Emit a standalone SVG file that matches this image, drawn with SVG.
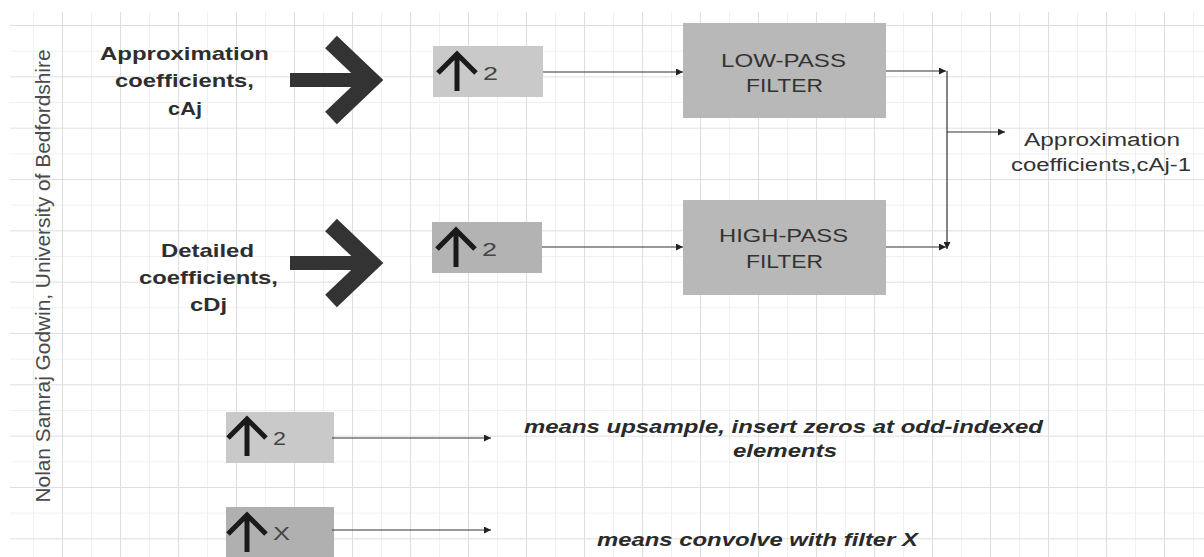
<svg xmlns="http://www.w3.org/2000/svg" xmlns:xlink="http://www.w3.org/1999/xlink" width="1204" height="557" viewBox="0 0 1204 557">
<style>
  .lbl-b { font-family: "Liberation Sans", Arial, sans-serif; font-weight: bold; font-size: 19px; fill: #2e2e2e; text-anchor: middle; }
  .lbl { font-family: "Liberation Sans", Arial, sans-serif; font-size: 19px; fill: #333; text-anchor: middle; }
  .lbl-bi { font-family: "Liberation Sans", Arial, sans-serif; font-weight: bold; font-style: italic; font-size: 19px; fill: #2a2a2a; text-anchor: middle; }
  .small { font-family: "Liberation Sans", Arial, sans-serif; font-size: 19px; fill: #444; }
  .conn { fill: none; stroke: #333; stroke-width: 1.2; }
  .glyph { fill: none; stroke: #1a1a1a; stroke-width: 5; stroke-linejoin: miter; }
  .credit { font-family: "Liberation Sans", Arial, sans-serif; font-size: 21px; fill: #4a4a4a; text-anchor: middle; }
</style>
<defs>
  <pattern id="grid" patternUnits="userSpaceOnUse" x="4" y="25" width="58" height="51.33">
    <rect width="58" height="51.33" fill="#ffffff"/>
    <line x1="29.5" y1="0" x2="29.5" y2="51.33" stroke="#f0f0f0" stroke-width="1"/>
    <line x1="0" y1="26.2" x2="58" y2="26.2" stroke="#f0f0f0" stroke-width="1"/>
    <line x1="0.5" y1="0" x2="0.5" y2="51.33" stroke="#dedede" stroke-width="1"/>
    <line x1="0" y1="0.5" x2="58" y2="0.5" stroke="#dedede" stroke-width="1"/>
  </pattern>
  <marker id="ah" viewBox="0 0 10 10" refX="10" refY="5" markerWidth="8" markerHeight="7" markerUnits="userSpaceOnUse" orient="auto">
    <path d="M0,0 L10,5 L0,10 Z" fill="#222"/>
  </marker>
  <g id="bigArrow">
    <rect x="-93" y="-7" width="80" height="14" fill="#333"/>
    <path d="M-52,-38 L-12,0 L-52,38" fill="none" stroke="#333" stroke-width="17" stroke-linejoin="miter" stroke-miterlimit="10"/>
  </g>
  <path id="upGlyph" d="M5,27 L24,8 L43,27 M24,8 L24,45" class="glyph"/>
</defs>

<rect x="0" y="0" width="1204" height="557" fill="#ffffff"/>
<rect x="10" y="12" width="1194" height="545" fill="url(#grid)"/>

<g id="credit">
  <text class="credit" transform="translate(50,276) rotate(-90)" textLength="453" lengthAdjust="spacingAndGlyphs">Nolan Samraj Godwin, University of Bedfordshire</text>
</g>

<g id="input-approx">
  <text class="lbl-b" x="184.5" y="60" textLength="169" lengthAdjust="spacingAndGlyphs">Approximation</text>
  <text class="lbl-b" x="184.5" y="87" textLength="139" lengthAdjust="spacingAndGlyphs">coefficients,</text>
  <text class="lbl-b" x="185" y="115" textLength="34" lengthAdjust="spacingAndGlyphs">cAj</text>
</g>
<g id="input-detail">
  <text class="lbl-b" x="207.5" y="257" textLength="93" lengthAdjust="spacingAndGlyphs">Detailed</text>
  <text class="lbl-b" x="208.5" y="284" textLength="139" lengthAdjust="spacingAndGlyphs">coefficients,</text>
  <text class="lbl-b" x="208.5" y="311" textLength="37" lengthAdjust="spacingAndGlyphs">cDj</text>
</g>

<g id="big-arrow-1"><use xlink:href="#bigArrow" href="#bigArrow" transform="translate(383,80)"/></g>
<g id="big-arrow-2"><use xlink:href="#bigArrow" href="#bigArrow" transform="translate(383,263)"/></g>

<g id="upsample-a">
  <rect x="433" y="46" width="110" height="51" fill="#c9c9c9"/>
  <use xlink:href="#upGlyph" href="#upGlyph" transform="translate(433,46)"/>
  <text class="small" x="483" y="80" textLength="15" lengthAdjust="spacingAndGlyphs">2</text>
</g>
<g id="upsample-d">
  <rect x="432" y="222" width="110" height="51" fill="#b3b3b3"/>
  <use xlink:href="#upGlyph" href="#upGlyph" transform="translate(432,222)"/>
  <text class="small" x="482" y="256" textLength="15" lengthAdjust="spacingAndGlyphs">2</text>
</g>

<g id="low-pass">
  <rect x="683" y="23" width="203" height="95" fill="#b8b8b8"/>
  <text class="lbl" x="783.5" y="67" textLength="125" lengthAdjust="spacingAndGlyphs">LOW-PASS</text>
  <text class="lbl" x="784.5" y="92" textLength="77" lengthAdjust="spacingAndGlyphs">FILTER</text>
</g>
<g id="high-pass">
  <rect x="683" y="200" width="203" height="95" fill="#b8b8b8"/>
  <text class="lbl" x="783.5" y="242" textLength="129" lengthAdjust="spacingAndGlyphs">HIGH-PASS</text>
  <text class="lbl" x="784.5" y="268" textLength="77" lengthAdjust="spacingAndGlyphs">FILTER</text>
</g>

<g id="output">
  <text class="lbl" style="font-size:18px" x="1102" y="146" textLength="156" lengthAdjust="spacingAndGlyphs">Approximation</text>
  <text class="lbl" style="font-size:18px" x="1101" y="171" textLength="180" lengthAdjust="spacingAndGlyphs">coefficients,cAj-1</text>
</g>

<g id="legend-up">
  <rect x="226" y="412" width="108" height="51" fill="#c9c9c9"/>
  <use xlink:href="#upGlyph" href="#upGlyph" transform="translate(223,411)"/>
  <text class="small" x="273" y="445" textLength="13" lengthAdjust="spacingAndGlyphs">2</text>
</g>
<g id="legend-up-text">
  <text class="lbl-bi" x="783.5" y="433" textLength="519" lengthAdjust="spacingAndGlyphs">means upsample, insert zeros at odd-indexed</text>
  <text class="lbl-bi" x="785" y="457" textLength="104" lengthAdjust="spacingAndGlyphs">elements</text>
</g>
<g id="legend-filter">
  <rect x="226" y="507" width="108" height="50" fill="#b0b0b0"/>
  <use xlink:href="#upGlyph" href="#upGlyph" transform="translate(223,507)"/>
  <text class="small" x="273" y="540" textLength="17" lengthAdjust="spacingAndGlyphs">X</text>
</g>
<g id="legend-filter-text">
  <text class="lbl-bi" x="757.5" y="546" textLength="321" lengthAdjust="spacingAndGlyphs">means convolve with filter X</text>
</g>

<g id="connectors">
  <path class="conn" d="M543,72 H683" marker-end="url(#ah)"/>
  <path class="conn" d="M542,247 H683" marker-end="url(#ah)"/>
  <path class="conn" d="M886,71 H946" marker-end="url(#ah)"/>
  <path class="conn" d="M947,71 V249" marker-end="url(#ah)"/>
  <path class="conn" d="M886,247 H946" marker-end="url(#ah)"/>
  <path class="conn" d="M947,132 H1005" marker-end="url(#ah)"/>
  <path class="conn" d="M332,438 H491" marker-end="url(#ah)"/>
  <path class="conn" d="M332,530 H491" marker-end="url(#ah)"/>
</g>
</svg>
